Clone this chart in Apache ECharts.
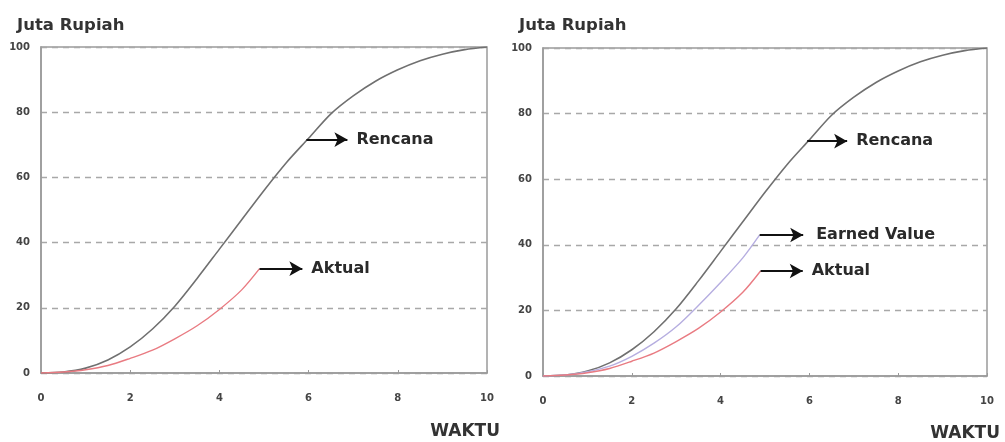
<!DOCTYPE html>
<html><head><meta charset="utf-8">
<script src="https://cdn.jsdelivr.net/npm/echarts@6/dist/echarts.min.js"></script>
<style>html,body{margin:0;padding:0;background:#fff}#c{width:1005px;height:442px}</style>
</head><body><div id="c"></div>
<script>
// ---- data ----
const waktuPlan = [0,0.5,1,1.5,2,2.5,3,3.5,4,4.5,5,5.5,6,6.5,7,7.5,8,8.5,9,9.5,10];
const rencana   = [0,0.3,1.5,4,8,13.5,20.5,29,38,47,56,64.5,72,79.5,85,89.5,93,95.8,97.8,99.2,100];
const waktuAktual = [0,0.5,1,1.5,2,2.5,3,3.5,4,4.5,4.9];
const aktual      = [0,0.3,1,2.3,4.5,7,10.5,14.5,19.5,25.5,32];
const waktuEV = [0,0.5,1,1.5,2,2.5,3,3.5,4,4.5,4.88];
const earnedValue = [0,0.3,1.3,3,6,10,15,21.5,28.5,36,43];
const xTicks = [0,2,4,6,8,10];
const yTicks = [0,20,40,60,80,100];
// rencana arrow anchor (point on curve where the annotation starts)
const rencanaAnchorX = 5.95, rencanaAnchorY = 71.6;

const pairs = (xs, ys) => xs.map((x, i) => [x, ys[i]]);
const font = '"DejaVu Sans", sans-serif';

function arrow(x0, y0, len, text) {
  return [{coord: [x0, y0]}, {coord: [x0 + len, y0], label: {formatter: text}}];
}
function markArrows(list, dist) {
  return {
    silent: true, symbol: ['none', 'arrow'], symbolSize: [11, 13],
    lineStyle: {color: '#111', width: 2.2, type: 'solid'},
    label: {show: true, position: 'end', distance: dist || 9, color: '#2a2a2a', fontFamily: font, fontWeight: 'bold', fontSize: 16},
    emphasis: {disabled: true},
    data: list
  };
}
function gridDef(left, right, top, bottom) {
  return {left, right, top, bottom, show: true, borderColor: '#9a9a9a', borderWidth: 1.5, backgroundColor: 'transparent'};
}
function xAx(gi) {
  return {gridIndex: gi, type: 'value', min: 0, max: 10, interval: 2,
    axisLine: {lineStyle: {color: '#9a9a9a', width: 1.5}},
    axisTick: {inside: true, length: 3, lineStyle: {color: '#9a9a9a'}},
    axisLabel: {color: '#444', fontFamily: font, fontWeight: 'bold', fontSize: 10, margin: 20,
      formatter: v => xTicks.includes(v) ? String(v) : ''},
    splitLine: {show: false}};
}
function yAx(gi) {
  return {gridIndex: gi, type: 'value', min: 0, max: 100, interval: 20,
    axisLine: {show: true, lineStyle: {color: '#9a9a9a', width: 1.5}},
    axisTick: {show: false},
    axisLabel: {color: '#444', fontFamily: font, fontWeight: 'bold', fontSize: 10, margin: 11,
      formatter: v => yTicks.includes(v) ? String(v) : ''},
    splitLine: {show: true, lineStyle: {color: '#a8a8a8', width: 1.3, type: [6, 5]}}};
}
const last = a => a[a.length - 1];
const titleStyle = {fontFamily: font, fontWeight: 'bold', fontSize: 16, color: '#333'};

const option = {
  animation: false,
  title: [
    {text: 'Juta Rupiah', left: 12, top: 12, textStyle: Object.assign({}, titleStyle, {fontSize: 16.5})},
    {text: 'Juta Rupiah', left: 514, top: 12, textStyle: Object.assign({}, titleStyle, {fontSize: 16.5})},
    {text: 'WAKTU', right: 500, top: 418, textStyle: Object.assign({}, titleStyle, {fontSize: 17})},
    {text: 'WAKTU', right: 0, top: 420, textStyle: Object.assign({}, titleStyle, {fontSize: 17})}
  ],
  grid: [gridDef(41, 518, 47, 69), gridDef(543, 18, 48, 66)],
  xAxis: [xAx(0), xAx(1)],
  yAxis: [yAx(0), yAx(1)],
  series: [
    {type: 'line', xAxisIndex: 0, yAxisIndex: 0, data: pairs(waktuPlan, rencana), smooth: 0.3, symbol: 'none',
      lineStyle: {color: '#707070', width: 1.6}, z: 3,
      markLine: markArrows([arrow(rencanaAnchorX, rencanaAnchorY, 0.92, 'Rencana')])},
    {type: 'line', xAxisIndex: 0, yAxisIndex: 0, data: pairs(waktuAktual, aktual), smooth: 0.3, symbol: 'none',
      lineStyle: {color: '#e97b82', width: 1.4}, z: 3,
      markLine: markArrows([arrow(last(waktuAktual), last(aktual), 0.96, 'Aktual')])},
    {type: 'line', xAxisIndex: 1, yAxisIndex: 1, data: pairs(waktuPlan, rencana), smooth: 0.3, symbol: 'none',
      lineStyle: {color: '#707070', width: 1.6}, z: 3,
      markLine: markArrows([arrow(rencanaAnchorX, rencanaAnchorY, 0.9, 'Rencana')])},
    {type: 'line', xAxisIndex: 1, yAxisIndex: 1, data: pairs(waktuEV, earnedValue), smooth: 0.3, symbol: 'none',
      lineStyle: {color: '#b6aee0', width: 1.4}, z: 3,
      markLine: markArrows([arrow(last(waktuEV), last(earnedValue), 0.98, 'Earned Value')], 13)},
    {type: 'line', xAxisIndex: 1, yAxisIndex: 1, data: pairs(waktuAktual, aktual), smooth: 0.3, symbol: 'none',
      lineStyle: {color: '#e97b82', width: 1.4}, z: 3,
      markLine: markArrows([arrow(last(waktuAktual), last(aktual), 0.95, 'Aktual')])}
  ]
};
const chart = echarts.init(document.getElementById('c'), null, {renderer: 'canvas'});
chart.setOption(option);
</script></body></html>
